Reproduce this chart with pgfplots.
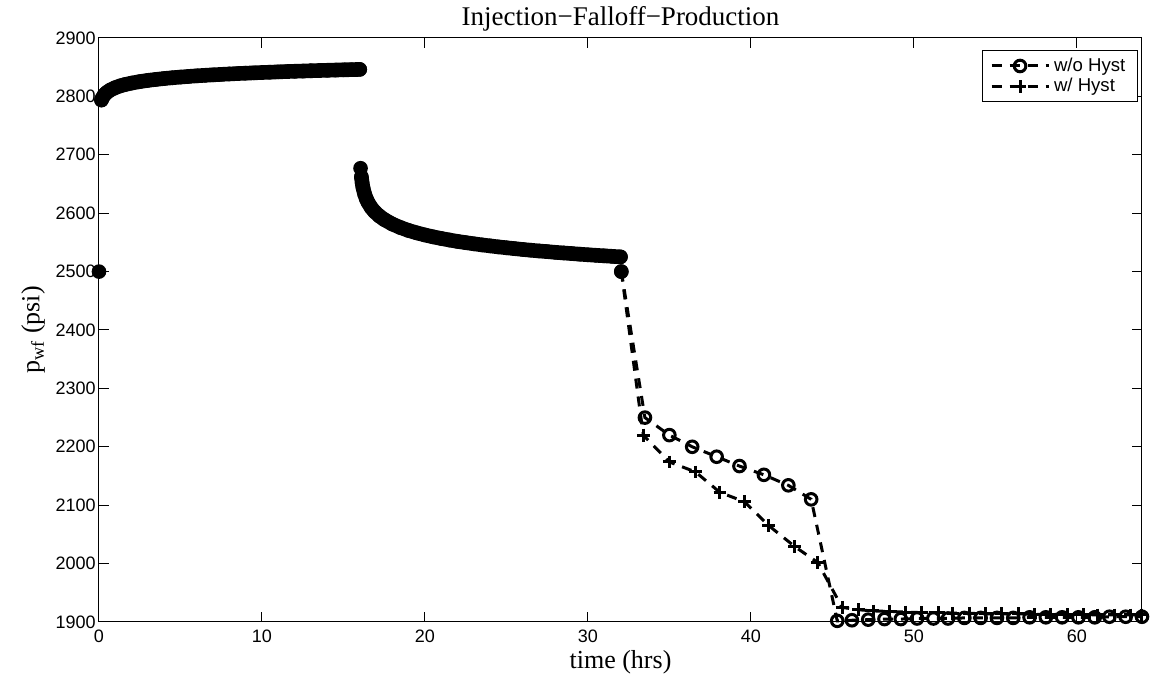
\documentclass[border=0pt]{standalone}
\usepackage{fontspec}
\setmainfont{Liberation Serif}
\newfontfamily\arialf{Liberation Sans}
\usepackage{pgfplots}
\pgfplotsset{compat=1.18}
\pgfplotstableread{
t p
0.15 2793.7
0.2 2796.9
0.3 2801.5
0.4 2804.7
0.5 2807.2
0.7 2811.0
1.0 2815.0
1.3 2818.0
1.6 2820.3
2.0 2822.8
2.5 2825.3
3.0 2827.4
3.5 2829.1
4.0 2830.6
4.5 2831.9
5.0 2833.1
5.5 2834.2
6.0 2835.2
6.5 2836.1
7.0 2836.9
7.5 2837.7
8.0 2838.4
8.5 2839.1
9.0 2839.7
9.5 2840.3
10.0 2840.9
10.5 2841.4
11.0 2842.0
11.5 2842.5
12.0 2843.0
12.5 2843.4
13.0 2843.9
13.5 2844.3
14.0 2844.7
14.5 2845.1
15.0 2845.5
15.5 2845.8
16.0 2846.2
}\injection
\pgfplotstableread{
t p
16.1 2662.3
16.15 2651.3
16.2 2643.5
16.3 2632.6
16.4 2624.8
16.5 2618.8
16.7 2609.7
16.9 2602.9
17.2 2595.2
17.5 2589.2
18.0 2581.4
18.5 2575.4
19.0 2570.4
19.5 2566.3
20.0 2562.7
20.5 2559.5
21.0 2556.7
21.5 2554.1
22.0 2551.7
22.5 2549.6
23.0 2547.6
23.5 2545.7
24.0 2544.0
24.5 2542.3
25.0 2540.8
25.5 2539.3
26.0 2537.9
26.5 2536.6
27.0 2535.3
27.5 2534.2
28.0 2533.0
28.5 2531.9
29.0 2530.9
29.5 2529.8
30.0 2528.8
30.5 2527.9
31.0 2527.0
31.5 2526.1
32.0 2525.2
}\falloff
\pgfplotstableread{
t p
32.05 2500
33.5 2250
35.0 2220
36.4 2200
37.9 2183
39.3 2167
40.8 2152
42.3 2134
43.7 2110
45.3 1902
46.2 1903
47.2 1904
48.2 1905
49.2 1905
50.2 1906
51.2 1906
52.1 1906
53.1 1907
54.1 1907
55.1 1907
56.1 1907
57.1 1908
58.1 1908
59.1 1908
60.1 1908
61.1 1908
62.0 1909
63.0 1909
64.0 1909
}\nohyst
\pgfplotstableread{
t p
32.05 2500
33.4 2220
35.0 2174
36.6 2157
38.1 2122
39.6 2106
41.1 2065
42.7 2029
44.1 2002
45.6 1925
46.6 1921
47.5 1919
48.5 1918
49.5 1917
50.5 1916
51.5 1916
52.4 1915
53.4 1915
54.4 1914
55.4 1914
56.4 1914
57.4 1913
58.4 1913
59.4 1913
60.4 1913
61.3 1912
62.3 1912
63.3 1912
64.0 1912
}\withhyst
\begin{document}
\begin{tikzpicture}
\begin{axis}[
  at={(0,0)}, anchor=south west,
  scale only axis, width=521.5pt, height=292pt,
  xmin=0, xmax=64, ymin=1900, ymax=2900,
  xtick={0,10,...,60}, ytick={1900,2000,...,2900},
  tick align=inside, major tick length=5pt,
  axis line style={line width=0.5pt},
  every tick/.style={black, line width=0.5pt},
  /pgf/number format/assume math mode=true,
  /pgf/number format/1000 sep={},
  ticklabel style={font=\arialf\fontsize{9}{10}\selectfont},
  yticklabel style={inner sep=1.5pt},
  xticklabel style={inner sep=1.5pt, yshift=-2.5pt},
  clip=false,
  title={Injection−Falloff−Production},
  title style={font=\fontsize{13.5}{15}\selectfont, at={(axis description cs:0.5,1)}, anchor=center, yshift=3.5pt},
  xlabel={time (hrs)},
  xlabel style={font=\fontsize{13}{15}\selectfont, at={(axis description cs:0.5,0)}, anchor=center, yshift=-20pt},
  ylabel={p\textsubscript{wf} (psi)},
  ylabel style={font=\fontsize{13}{15}\selectfont, at={(axis description cs:0,0.5)}, anchor=center, yshift=33pt},
  legend style={draw=black, line width=0.5pt, at={(0.996,0.979)}, anchor=north east,
    font=\arialf\fontsize{9.3}{10}\selectfont, inner xsep=4pt, inner ysep=1.5pt, row sep=-2pt,
    nodes={inner sep=2pt}},
  legend cell align=left,
  legend image code/.code={\draw[mark repeat=2,mark phase=2] plot coordinates {(0cm,0cm)(0.5cm,0cm)(1.0cm,0cm)};},
  ser/.style={black, line width=1.5pt, dash pattern=on 5pt off 4pt, mark options={solid, line width=1.5pt}},
  band/.style={black, line width=7.3pt, line cap=round, line join=round, mark=*, mark size=2.9pt, mark options={line width=1.5pt}, forget plot},
]
\addplot[ser, mark=o, mark size=2.9pt] table[x=t,y=p] {\nohyst};
\addlegendentry{w/o Hyst}
\addplot[ser, mark=+, mark size=3.2pt] table[x=t,y=p] {\withhyst};
\addlegendentry{w/ Hyst}
\addplot[band] table[x=t,y=p] {\injection};
\addplot[band] table[x=t,y=p] {\falloff};
\addplot[black, only marks, mark=*, mark size=2.9pt, mark options={line width=1.5pt}, forget plot] coordinates {(0,2500) (16.05,2677) (32.05,2500)};
\end{axis}
\pgfresetboundingbox
\path[use as bounding box] (-49.5pt,-28.5pt) rectangle (531.5pt,311pt);
\end{tikzpicture}
\end{document}
